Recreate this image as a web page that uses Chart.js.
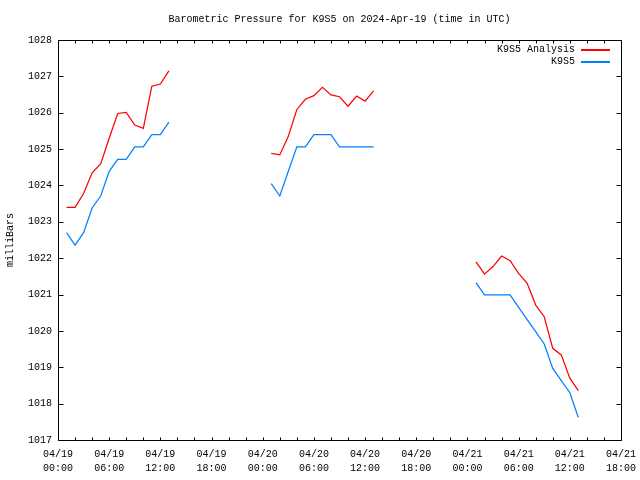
<!DOCTYPE html>
<html>
<head>
<meta charset="utf-8">
<script src="https://cdn.jsdelivr.net/npm/chart.js@4"></script>
<style>
html,body{margin:0;padding:0;background:#fff;}
#wrap{width:640px;height:480px;}
</style>
</head>
<body>
<div id="wrap"><canvas id="c" width="640" height="480"></canvas></div>
<script>
// Hours since 04/19 00:00 UTC (null entries break the line)
const hours = [1,2,3,4,5,6,7,8,9,10,11,12,13,14,
               25,26,27,28,29,30,31,32,33,34,35,36,37,38,
               49,50,51,52,53,54,55,56,57,58,59,60,61];
const analysis = [1023.40,1023.40,1023.78,1024.35,1024.59,1025.30,1025.98,1026.01,1025.66,1025.57,1026.73,1026.79,1027.15,null,
                  1024.88,1024.84,1025.35,1026.09,1026.37,1026.47,1026.70,1026.49,1026.44,1026.18,1026.46,1026.32,1026.60,null,
                  1021.90,1021.56,1021.77,1022.06,1021.93,1021.58,1021.31,1020.71,1020.39,1019.52,1019.34,1018.70,1018.36];
const station = [1022.70,1022.36,1022.70,1023.38,1023.71,1024.39,1024.72,1024.72,1025.06,1025.06,1025.40,1025.40,1025.74,null,
                 1024.05,1023.71,1024.39,1025.06,1025.06,1025.40,1025.40,1025.40,1025.06,1025.06,1025.06,1025.06,1025.06,null,
                 1021.33,1020.99,1020.99,1020.99,1020.99,1020.65,1020.31,1019.98,1019.64,1018.97,1018.63,1018.30,1017.62];
const seriesNames = ['K9S5 Analysis', 'K9S5'];
const seriesColors = ['#ff0000', '#0080ff'];
const xTickLabels = [['04/19','00:00'],['04/19','06:00'],['04/19','12:00'],['04/19','18:00'],
                     ['04/20','00:00'],['04/20','06:00'],['04/20','12:00'],['04/20','18:00'],
                     ['04/21','00:00'],['04/21','06:00'],['04/21','12:00'],['04/21','18:00']];
const titleText = 'Barometric Pressure for K9S5 on 2024-Apr-19 (time in UTC)';
const yTitle = 'milliBars';

const FONT = '"Liberation Mono", "DejaVu Sans Mono", monospace';

const pts = arr => hours.map((h, i) => ({x: h, y: arr[i]}));

const decor = {
  id: 'decor',
  afterDraw(chart) {
    const ctx = chart.ctx;
    const a = chart.chartArea;
    const xs = chart.scales.x, ys = chart.scales.y;
    ctx.save();
    ctx.strokeStyle = '#000';
    ctx.lineWidth = 1;
    const L = Math.round(a.left) + 0.5, R = Math.round(a.right) + 0.5;
    const T = Math.round(a.top) + 0.5, B = Math.round(a.bottom) + 0.5;
    ctx.beginPath();
    ctx.rect(L, T, R - L, B - T);
    for (let h = xs.min; h <= xs.max; h += 2) {
      const px = Math.round(xs.getPixelForValue(h)) + 0.5;
      ctx.moveTo(px, B); ctx.lineTo(px, B - 3);
      ctx.moveTo(px, T); ctx.lineTo(px, T + 3);
    }
    for (let v = ys.min; v <= ys.max; v += 1) {
      const py = Math.round(ys.getPixelForValue(v)) + 0.5;
      ctx.moveTo(L, py); ctx.lineTo(L + 5, py);
      ctx.moveTo(R, py); ctx.lineTo(R - 5, py);
    }
    ctx.stroke();
    ctx.restore();

    ctx.save();
    ctx.fillStyle = '#000';
    ctx.font = '10px ' + FONT;
    ctx.textAlign = 'center';
    ctx.textBaseline = 'middle';
    ctx.fillText(titleText, (a.left + a.right) / 2, 19);
    ctx.textAlign = 'right';
    for (let i = 0; i < seriesNames.length; i++) {
      ctx.fillStyle = '#000';
      ctx.fillText(seriesNames[i], 575, 49 + i * 12);
    }
    ctx.restore();

    for (let i = 0; i < seriesNames.length; i++) {
      ctx.save();
      ctx.fillStyle = seriesColors[i];
      ctx.fillRect(581, 49 + i * 12, 29, 2);
      ctx.restore();
    }
  }
};

new Chart(document.getElementById('c'), {
  type: 'line',
  data: {
    datasets: [
      {label: seriesNames[0], data: pts(analysis), borderColor: seriesColors[0], borderWidth: 1.25, pointRadius: 0, spanGaps: false, tension: 0},
      {label: seriesNames[1], data: pts(station), borderColor: seriesColors[1], borderWidth: 1.25, pointRadius: 0, spanGaps: false, tension: 0}
    ]
  },
  options: {
    responsive: false,
    animation: false,
    events: [],
    layout: {padding: {top: 40, right: 19, left: 0, bottom: 0}},
    plugins: {legend: {display: false}, title: {display: false}, tooltip: {enabled: false}},
    scales: {
      x: {
        type: 'linear', min: 0, max: 66,
        grid: {display: false, drawTicks: false},
        border: {display: false},
        afterFit(s) { s.height = 40; s.paddingLeft = 0; s.paddingRight = 0; },
        afterBuildTicks(s) { s.ticks = xTickLabels.map((_, i) => ({value: i * 6})); },
        ticks: {
          autoSkip: false, maxRotation: 0, padding: 8, color: '#000',
          font: {family: FONT, size: 10, lineHeight: 1.35},
          callback: (v) => xTickLabels[Math.round(v / 6)]
        }
      },
      y: {
        min: 1017, max: 1028,
        grid: {display: false, drawTicks: false},
        border: {display: false},
        afterFit(s) { s.width = 58; },
        ticks: {stepSize: 1, padding: 6, color: '#000', font: {family: FONT, size: 10},
                callback: v => String(v)},
        title: {display: true, text: yTitle, color: '#000', font: {family: FONT, size: 10}, padding: {top: 4, bottom: 0}}
      }
    }
  },
  plugins: [decor]
});
</script>
</body>
</html>
